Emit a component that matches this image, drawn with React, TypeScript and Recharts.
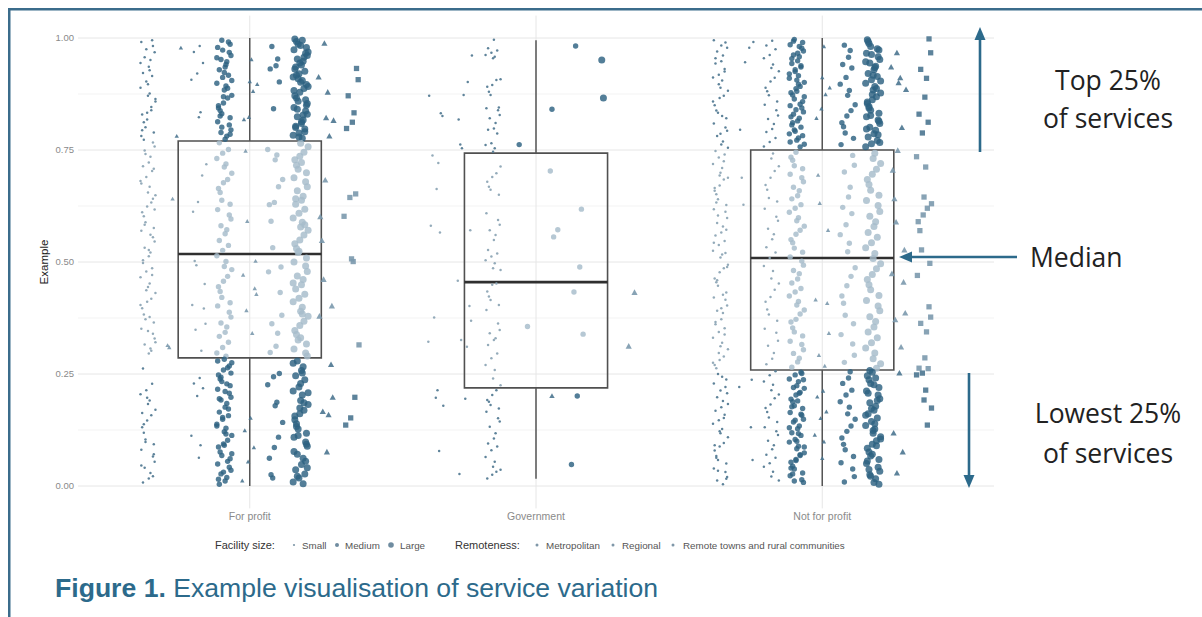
import React from 'react';
import { ScatterChart, Scatter, XAxis, YAxis, CartesianGrid, ReferenceArea, ReferenceLine } from 'recharts';

// ---------- categories & box statistics ----------
const categories = ['For profit', 'Government', 'Not for profit'];
const lowerQuartile = [0.286, 0.219, 0.259];
const medianValue = [0.518, 0.455, 0.509];
const upperQuartile = [0.77, 0.743, 0.75];
const whiskerMin = [0.0, 0.016, 0.0];
const whiskerMax = [1.0, 0.995, 1.0];

const yTicks = [0, 0.25, 0.5, 0.75, 1];
const yMinorTicks = [0.125, 0.375, 0.625, 0.875];
const xTicks = [1, 2, 3];

// ---------- For profit ----------
const fpSmallMetro = [0.991, 0.982, 0.968, 0.957, 0.951, 0.936, 0.922, 0.915, 0.903, 0.889, 0.876, 0.871, 0.858, 0.846, 0.833, 0.829, 0.812, 0.801, 0.789, 0.781, 0.767, 0.758, 0.749, 0.735, 0.722, 0.714, 0.703, 0.69, 0.681, 0.668, 0.655, 0.649, 0.633, 0.624, 0.611, 0.602, 0.589, 0.576, 0.57, 0.555, 0.546, 0.532, 0.521, 0.513, 0.498, 0.486, 0.479, 0.466, 0.452, 0.444, 0.431, 0.418, 0.411, 0.397, 0.383, 0.372, 0.365, 0.351, 0.34, 0.329, 0.316, 0.307, 0.296, 0.262, 0.228, 0.214, 0.205, 0.191, 0.183, 0.17, 0.158, 0.146, 0.131, 0.119, 0.104, 0.093, 0.081, 0.066, 0.054, 0.041, 0.029, 0.017, 0.008, 0.995, 0.975, 0.944, 0.928, 0.897, 0.864, 0.839, 0.818, 0.794, 0.773, 0.741, 0.708, 0.675, 0.641, 0.617, 0.583, 0.561, 0.527, 0.504, 0.471, 0.437, 0.404, 0.377, 0.346, 0.321, 0.302, 0.197, 0.163, 0.138, 0.098, 0.071, 0.046, 0.022];
const fpSmallRegional = [0.978, 0.781, 0.641, 0.314, 0.309];
const fpSmallRemote = [0.982, 0.969, 0.944, 0.921, 0.907, 0.834, 0.823, 0.718, 0.693, 0.634, 0.612, 0.502, 0.493, 0.451, 0.404, 0.396, 0.362, 0.349, 0.302, 0.241, 0.229, 0.218, 0.201, 0.112, 0.091, 0.063];
const fpMediumMetro = [0.995, 0.986, 0.979, 0.968, 0.961, 0.952, 0.947, 0.935, 0.929, 0.917, 0.912, 0.899, 0.893, 0.884, 0.872, 0.866, 0.855, 0.849, 0.838, 0.831, 0.822, 0.813, 0.806, 0.795, 0.789, 0.781, 0.774, 0.766, 0.751, 0.743, 0.731, 0.719, 0.712, 0.698, 0.684, 0.677, 0.664, 0.655, 0.638, 0.629, 0.617, 0.605, 0.596, 0.581, 0.572, 0.563, 0.548, 0.537, 0.526, 0.514, 0.501, 0.49, 0.483, 0.468, 0.457, 0.445, 0.434, 0.421, 0.409, 0.402, 0.388, 0.377, 0.364, 0.355, 0.343, 0.334, 0.321, 0.309, 0.297, 0.29, 0.283, 0.275, 0.264, 0.259, 0.248, 0.239, 0.233, 0.224, 0.216, 0.207, 0.198, 0.192, 0.184, 0.176, 0.165, 0.157, 0.149, 0.138, 0.129, 0.121, 0.113, 0.102, 0.094, 0.087, 0.076, 0.068, 0.061, 0.049, 0.042, 0.035, 0.027, 0.019, 0.011, 0.004, 0.991, 0.973, 0.956, 0.941, 0.923, 0.905, 0.888, 0.869, 0.844, 0.826, 0.801, 0.785, 0.279, 0.268, 0.252, 0.243, 0.228, 0.211, 0.195, 0.172, 0.153, 0.134, 0.116, 0.091, 0.072, 0.055, 0.031, 0.015];
const fpMediumRegional = [0.952, 0.903, 0.897, 0.881, 0.823, 0.818, 0.748, 0.591, 0.502, 0.471, 0.441, 0.428, 0.392, 0.341, 0.152, 0.124, 0.086, 0.054, 0.012];
const fpMediumRemote = [0.981, 0.953, 0.938, 0.931, 0.902, 0.842, 0.751, 0.739, 0.728, 0.684, 0.668, 0.633, 0.628, 0.591, 0.532, 0.489, 0.478, 0.432, 0.381, 0.362, 0.341, 0.312, 0.298, 0.251, 0.244, 0.226, 0.187, 0.179, 0.142, 0.109, 0.086, 0.062, 0.025, 0.018];
const fpLargeMetro = [0.998, 0.992, 0.986, 0.979, 0.974, 0.966, 0.961, 0.953, 0.948, 0.94, 0.935, 0.926, 0.92, 0.913, 0.905, 0.901, 0.892, 0.887, 0.879, 0.871, 0.866, 0.859, 0.85, 0.845, 0.837, 0.83, 0.824, 0.817, 0.809, 0.803, 0.797, 0.788, 0.783, 0.776, 0.765, 0.757, 0.745, 0.736, 0.728, 0.716, 0.707, 0.699, 0.688, 0.679, 0.668, 0.659, 0.647, 0.638, 0.629, 0.618, 0.609, 0.598, 0.589, 0.578, 0.571, 0.56, 0.549, 0.541, 0.53, 0.521, 0.509, 0.5, 0.491, 0.479, 0.469, 0.461, 0.449, 0.44, 0.428, 0.419, 0.411, 0.399, 0.39, 0.379, 0.368, 0.358, 0.347, 0.338, 0.326, 0.317, 0.306, 0.297, 0.29, 0.279, 0.266, 0.258, 0.246, 0.237, 0.221, 0.212, 0.203, 0.191, 0.182, 0.169, 0.161, 0.148, 0.139, 0.127, 0.118, 0.109, 0.098, 0.089, 0.071, 0.062, 0.048, 0.036, 0.027, 0.018, 0.009, 0.995, 0.983, 0.969, 0.957, 0.944, 0.931, 0.917, 0.909, 0.896, 0.883, 0.862, 0.854, 0.841, 0.828, 0.813, 0.8, 0.791, 0.779, 0.274, 0.252, 0.229, 0.208, 0.186, 0.174, 0.156, 0.133, 0.113, 0.093, 0.077, 0.055, 0.041, 0.022, 0.005, 0.722, 0.641, 0.583, 0.524, 0.453, 0.384, 0.331];
const fpLargeRegional = [0.988, 0.913, 0.879, 0.822, 0.816, 0.781, 0.683, 0.601, 0.548, 0.461, 0.402, 0.379, 0.271, 0.198, 0.166, 0.159, 0.076];
const fpLargeRemote = [0.932, 0.907, 0.871, 0.833, 0.812, 0.798, 0.652, 0.644, 0.602, 0.501, 0.507, 0.315, 0.198, 0.152, 0.136];

// ---------- Government ----------
const govSmallA = [0.871, 0.832, 0.826, 0.738, 0.721, 0.663, 0.581, 0.566, 0.376, 0.322, 0.214, 0.197, 0.179, 0.078];
const govSmallB = [0.961, 0.902, 0.873, 0.818, 0.762, 0.754, 0.571, 0.458, 0.402, 0.369, 0.326, 0.311, 0.195, 0.027];
const govSmallC = [0.996, 0.977, 0.972, 0.967, 0.962, 0.958, 0.955, 0.908, 0.906, 0.895, 0.891, 0.88, 0.873, 0.845, 0.843, 0.839, 0.828, 0.821, 0.81, 0.798, 0.795, 0.787, 0.765, 0.761, 0.754, 0.746, 0.713, 0.698, 0.69, 0.679, 0.668, 0.661, 0.65, 0.609, 0.594, 0.583, 0.571, 0.56, 0.549, 0.527, 0.519, 0.512, 0.504, 0.497, 0.486, 0.482, 0.452, 0.449, 0.434, 0.423, 0.415, 0.404, 0.393, 0.363, 0.348, 0.341, 0.33, 0.326, 0.315, 0.296, 0.285, 0.27, 0.259, 0.24, 0.225, 0.214, 0.203, 0.192, 0.188, 0.181, 0.173, 0.166, 0.151, 0.144, 0.132, 0.118, 0.106, 0.095, 0.088, 0.08, 0.065, 0.054, 0.043, 0.036, 0.032, 0.025, 0.017];
const govMediumA = [0.762, 0.356];
const govMediumB = [0.841, 0.703, 0.572, 0.556];
const govMediumBTri = [0.201];
const govMediumC = [0.982, 0.618, 0.489, 0.433, 0.339, 0.201, 0.048];
const govLarge = [0.951, 0.866];
const govLargeTri = [0.432, 0.312];

// ---------- Not for profit ----------
const nfpSmallMetro = [0.995, 0.99, 0.978, 0.97, 0.961, 0.948, 0.943, 0.931, 0.918, 0.912, 0.905, 0.889, 0.882, 0.871, 0.866, 0.85, 0.838, 0.833, 0.821, 0.809, 0.8, 0.793, 0.781, 0.769, 0.762, 0.748, 0.74, 0.733, 0.719, 0.71, 0.699, 0.688, 0.684, 0.671, 0.659, 0.651, 0.64, 0.627, 0.618, 0.612, 0.598, 0.587, 0.579, 0.566, 0.559, 0.547, 0.538, 0.525, 0.517, 0.51, 0.494, 0.486, 0.477, 0.463, 0.455, 0.447, 0.432, 0.421, 0.416, 0.403, 0.391, 0.386, 0.372, 0.361, 0.352, 0.344, 0.331, 0.32, 0.312, 0.305, 0.289, 0.281, 0.27, 0.263, 0.25, 0.238, 0.229, 0.221, 0.207, 0.198, 0.19, 0.176, 0.168, 0.159, 0.147, 0.139, 0.127, 0.118, 0.109, 0.096, 0.088, 0.079, 0.067, 0.058, 0.05, 0.039, 0.031, 0.02, 0.012, 0.004, 0.983, 0.955, 0.925, 0.897, 0.858, 0.826, 0.786, 0.755, 0.725, 0.693, 0.665, 0.633, 0.604, 0.572, 0.543, 0.52, 0.489, 0.459, 0.427, 0.397, 0.366, 0.338, 0.297, 0.275, 0.244, 0.213, 0.183, 0.152, 0.122, 0.091, 0.063, 0.034, 0.016];
const nfpSmallSparse = [0.991, 0.978, 0.946, 0.795, 0.688, 0.628, 0.237, 0.221, 0.131, 0.058];
const nfpSmallDense = [0.994, 0.983, 0.975, 0.962, 0.955, 0.941, 0.933, 0.926, 0.911, 0.903, 0.889, 0.881, 0.872, 0.858, 0.851, 0.839, 0.827, 0.819, 0.808, 0.797, 0.79, 0.777, 0.768, 0.758, 0.742, 0.731, 0.714, 0.703, 0.688, 0.672, 0.661, 0.643, 0.635, 0.619, 0.601, 0.592, 0.574, 0.562, 0.551, 0.533, 0.521, 0.509, 0.491, 0.48, 0.463, 0.452, 0.438, 0.422, 0.411, 0.394, 0.383, 0.369, 0.351, 0.342, 0.324, 0.313, 0.297, 0.284, 0.272, 0.256, 0.247, 0.233, 0.226, 0.214, 0.204, 0.196, 0.182, 0.174, 0.165, 0.153, 0.143, 0.131, 0.122, 0.114, 0.101, 0.091, 0.082, 0.07, 0.063, 0.051, 0.043, 0.032, 0.021, 0.012];
const nfpMediumMetro = [0.997, 0.99, 0.985, 0.977, 0.971, 0.962, 0.958, 0.949, 0.943, 0.935, 0.929, 0.92, 0.916, 0.906, 0.901, 0.892, 0.887, 0.878, 0.873, 0.864, 0.858, 0.849, 0.844, 0.835, 0.83, 0.821, 0.815, 0.806, 0.801, 0.792, 0.786, 0.777, 0.772, 0.763, 0.757, 0.745, 0.734, 0.727, 0.715, 0.708, 0.696, 0.688, 0.679, 0.667, 0.659, 0.648, 0.641, 0.628, 0.62, 0.611, 0.599, 0.592, 0.58, 0.571, 0.562, 0.55, 0.543, 0.531, 0.522, 0.511, 0.502, 0.493, 0.481, 0.474, 0.462, 0.453, 0.441, 0.433, 0.424, 0.412, 0.404, 0.393, 0.384, 0.372, 0.366, 0.353, 0.344, 0.335, 0.323, 0.316, 0.304, 0.296, 0.285, 0.277, 0.265, 0.254, 0.248, 0.239, 0.233, 0.224, 0.218, 0.209, 0.203, 0.194, 0.188, 0.179, 0.173, 0.164, 0.158, 0.149, 0.143, 0.134, 0.128, 0.119, 0.113, 0.104, 0.098, 0.089, 0.083, 0.074, 0.068, 0.059, 0.053, 0.044, 0.038, 0.029, 0.023, 0.014, 0.008, 0.993, 0.981, 0.966, 0.954, 0.938, 0.925, 0.91, 0.897, 0.881, 0.869, 0.852, 0.84, 0.824, 0.811, 0.795, 0.782, 0.768, 0.251, 0.237, 0.22, 0.207, 0.19, 0.177, 0.16, 0.147, 0.13, 0.117, 0.1, 0.087, 0.07, 0.057, 0.04, 0.027, 0.011];
const nfpMediumRegional = [0.981, 0.912, 0.889, 0.874, 0.842, 0.821, 0.694, 0.631, 0.571, 0.416, 0.408, 0.341, 0.292, 0.268, 0.212, 0.199, 0.166, 0.151, 0.114, 0.099, 0.062];
const nfpMediumRemote = [0.984, 0.972, 0.957, 0.941, 0.933, 0.912, 0.897, 0.883, 0.872, 0.851, 0.838, 0.826, 0.811, 0.802, 0.788, 0.776, 0.762, 0.738, 0.716, 0.701, 0.667, 0.645, 0.622, 0.608, 0.583, 0.561, 0.542, 0.523, 0.487, 0.468, 0.447, 0.424, 0.408, 0.381, 0.362, 0.338, 0.317, 0.292, 0.276, 0.255, 0.241, 0.229, 0.214, 0.203, 0.188, 0.176, 0.161, 0.149, 0.134, 0.122, 0.107, 0.093, 0.081, 0.066, 0.052, 0.038, 0.021, 0.009];
const nfpLargeMetro = [0.996, 0.988, 0.981, 0.973, 0.966, 0.958, 0.952, 0.944, 0.937, 0.929, 0.921, 0.914, 0.907, 0.899, 0.892, 0.884, 0.877, 0.869, 0.862, 0.854, 0.847, 0.839, 0.832, 0.824, 0.817, 0.809, 0.801, 0.794, 0.786, 0.779, 0.771, 0.764, 0.757, 0.743, 0.731, 0.72, 0.707, 0.696, 0.684, 0.673, 0.66, 0.649, 0.637, 0.626, 0.613, 0.602, 0.59, 0.579, 0.566, 0.555, 0.543, 0.532, 0.519, 0.508, 0.496, 0.485, 0.472, 0.461, 0.449, 0.438, 0.425, 0.414, 0.402, 0.391, 0.378, 0.367, 0.355, 0.344, 0.331, 0.32, 0.308, 0.297, 0.284, 0.273, 0.263, 0.254, 0.246, 0.237, 0.229, 0.22, 0.212, 0.203, 0.195, 0.186, 0.178, 0.169, 0.161, 0.152, 0.144, 0.135, 0.127, 0.118, 0.11, 0.101, 0.093, 0.084, 0.076, 0.067, 0.059, 0.05, 0.042, 0.033, 0.025, 0.016, 0.008, 0.992, 0.976, 0.963, 0.947, 0.934, 0.917, 0.904, 0.887, 0.874, 0.857, 0.844, 0.827, 0.814, 0.797, 0.784, 0.767, 0.258, 0.241, 0.226, 0.207, 0.191, 0.173, 0.158, 0.139, 0.124, 0.105, 0.09, 0.071, 0.056, 0.037, 0.022, 0.004];
const nfpLargeRegional = [0.967, 0.935, 0.911, 0.9, 0.885, 0.8, 0.749, 0.705, 0.641, 0.589, 0.527, 0.474, 0.455, 0.386, 0.371, 0.31, 0.252, 0.118, 0.076, 0.029];
const nfpLargeRemote = [0.998, 0.967, 0.93, 0.91, 0.868, 0.83, 0.812, 0.788, 0.735, 0.712, 0.645, 0.63, 0.62, 0.605, 0.59, 0.57, 0.527, 0.497, 0.47, 0.4, 0.377, 0.363, 0.344, 0.286, 0.263, 0.262, 0.252, 0.248, 0.214, 0.192, 0.174, 0.136];

// ---------- strip layout (dodge slot, mark size & shape) ----------
type Size = 'small' | 'medium' | 'large';
type Shape = 'circle' | 'triangle' | 'square';
type Strip = { cat: number; slot: number; slots: number; size: Size; shape: Shape; values: number[] };

const strips: Strip[] = [
  { cat: 0, slot: 0, slots: 9, size: 'small', shape: 'circle', values: fpSmallMetro },
  { cat: 0, slot: 1, slots: 9, size: 'small', shape: 'triangle', values: fpSmallRegional },
  { cat: 0, slot: 2, slots: 9, size: 'small', shape: 'circle', values: fpSmallRemote },
  { cat: 0, slot: 3, slots: 9, size: 'medium', shape: 'circle', values: fpMediumMetro },
  { cat: 0, slot: 4, slots: 9, size: 'small', shape: 'triangle', values: fpMediumRegional },
  { cat: 0, slot: 5, slots: 9, size: 'medium', shape: 'circle', values: fpMediumRemote },
  { cat: 0, slot: 6, slots: 9, size: 'large', shape: 'circle', values: fpLargeMetro },
  { cat: 0, slot: 7, slots: 9, size: 'large', shape: 'triangle', values: fpLargeRegional },
  { cat: 0, slot: 8, slots: 9, size: 'large', shape: 'square', values: fpLargeRemote },

  { cat: 1, slot: 0, slots: 8, size: 'small', shape: 'circle', values: govSmallA },
  { cat: 1, slot: 1, slots: 8, size: 'small', shape: 'circle', values: govSmallB },
  { cat: 1, slot: 2, slots: 8, size: 'small', shape: 'circle', values: govSmallC },
  { cat: 1, slot: 3, slots: 8, size: 'medium', shape: 'circle', values: govMediumA },
  { cat: 1, slot: 4, slots: 8, size: 'medium', shape: 'circle', values: govMediumB },
  { cat: 1, slot: 4, slots: 8, size: 'medium', shape: 'triangle', values: govMediumBTri },
  { cat: 1, slot: 5, slots: 8, size: 'medium', shape: 'circle', values: govMediumC },
  { cat: 1, slot: 6, slots: 8, size: 'large', shape: 'circle', values: govLarge },
  { cat: 1, slot: 7, slots: 8, size: 'large', shape: 'triangle', values: govLargeTri },

  { cat: 2, slot: 0, slots: 9, size: 'small', shape: 'circle', values: nfpSmallMetro },
  { cat: 2, slot: 1, slots: 9, size: 'small', shape: 'circle', values: nfpSmallSparse },
  { cat: 2, slot: 2, slots: 9, size: 'small', shape: 'circle', values: nfpSmallDense },
  { cat: 2, slot: 3, slots: 9, size: 'medium', shape: 'circle', values: nfpMediumMetro },
  { cat: 2, slot: 4, slots: 9, size: 'small', shape: 'triangle', values: nfpMediumRegional },
  { cat: 2, slot: 5, slots: 9, size: 'medium', shape: 'circle', values: nfpMediumRemote },
  { cat: 2, slot: 6, slots: 9, size: 'large', shape: 'circle', values: nfpLargeMetro },
  { cat: 2, slot: 7, slots: 9, size: 'large', shape: 'triangle', values: nfpLargeRegional },
  { cat: 2, slot: 8, slots: 9, size: 'large', shape: 'square', values: nfpLargeRemote },
];

// fixed jitter pattern (horizontal spread inside each strip)
const jitterPattern = [-0.8, 0.3, -0.2, 0.9, -0.5, 0.6, 0.1, -0.9, 0.4, -0.3, 0.8, -0.6, 0.2, -0.1, 0.7, -0.4, 0.5, 0.0, -0.7];
const JITTER = 0.029;
const DODGE = 0.8;

const stripData = (s: Strip) => {
  const offset = (s.slot - (s.slots - 1) / 2) * (DODGE / s.slots);
  return s.values.map((y, i) => ({
    x: s.cat + 1 + offset + jitterPattern[(i * 5 + s.slot * 3) % jitterPattern.length] * JITTER,
    y,
    inside: y >= lowerQuartile[s.cat] && y <= upperQuartile[s.cat],
  }));
};

const radius: Record<Size, number> = { small: 1.25, medium: 2.7, large: 3.5 };
const markSize: Record<Size, number> = { small: 2.2, medium: 2.7, large: 3.1 };

const colourFor = (s: Strip, inside: boolean) => {
  if (s.shape !== 'circle') return inside ? '#7b99ad' : '#4b7590';
  if (s.size === 'small') return inside ? '#8ea6b6' : '#557c95';
  return inside ? '#a6bccb' : '#2d6281';
};

const renderMark = (s: Strip) => (props: any) => {
  const { cx, cy, payload } = props;
  if (typeof cx !== 'number' || typeof cy !== 'number') return <g />;
  const fill = colourFor(s, !!(payload && payload.inside));
  if (s.shape === 'circle') {
    return <circle cx={cx} cy={cy} r={radius[s.size]} fill={fill} fillOpacity={s.size === 'small' ? 0.95 : 0.82} />;
  }
  const h = markSize[s.size];
  if (s.shape === 'square') {
    return <rect x={cx - h * 0.85} y={cy - h * 0.85} width={h * 1.7} height={h * 1.7} fill={fill} fillOpacity={0.9} />;
  }
  return (
    <polygon
      points={`${cx},${cy - h} ${cx - h},${cy + h * 0.8} ${cx + h},${cy + h * 0.8}`}
      fill={fill}
      fillOpacity={0.9}
    />
  );
};

const FONT = 'Liberation Sans, Arial, Helvetica, sans-serif';
const TEAL = '#2c6a8b';

export default function App() {
  return (
    <div style={{ position: 'absolute', left: 0, top: 0, width: 1202, height: 617, background: '#ffffff', overflow: 'hidden' }}>
      <ScatterChart
        width={1202}
        height={617}
        margin={{ top: 15.6, right: 208, bottom: 78.6, left: 18 }}
        style={{ position: 'absolute', left: 0, top: 0 }}
      >
        <CartesianGrid horizontalValues={yMinorTicks} vertical={false} stroke="#f3f3f3" strokeWidth={1} />
        <CartesianGrid horizontalValues={yTicks} verticalValues={xTicks} stroke="#e6e6e6" strokeWidth={1} />
        <XAxis
          type="number"
          dataKey="x"
          domain={[0.4, 3.6]}
          ticks={xTicks}
          tickFormatter={(v: number) => categories[Math.round(v) - 1] ?? ''}
          axisLine={false}
          tickLine={false}
          tickSize={0}
          tickMargin={4}
          height={30}
          allowDataOverflow
          tick={{ fontSize: 10.5, fill: '#8a8a8a', fontFamily: FONT }}
        />
        <YAxis
          type="number"
          dataKey="y"
          domain={[-0.05, 1.05]}
          ticks={yTicks}
          tickFormatter={(v: number) => v.toFixed(2)}
          axisLine={false}
          tickLine={false}
          tickSize={0}
          tickMargin={4}
          width={60}
          allowDataOverflow
          tick={{ fontSize: 9.5, fill: '#8a8a8a', fontFamily: FONT }}
        />
        {strips.map((s, k) => (
          <Scatter key={k} data={stripData(s)} shape={renderMark(s)} isAnimationActive={false} />
        ))}
        {categories.map((c, i) => (
          <ReferenceArea
            key={'box' + c}
            x1={i + 1 - 0.25}
            x2={i + 1 + 0.25}
            y1={lowerQuartile[i]}
            y2={upperQuartile[i]}
            fill="none"
            fillOpacity={0}
            stroke="#505050"
            strokeWidth={1.6}
            ifOverflow="visible"
          />
        ))}
        {categories.map((c, i) => (
          <ReferenceLine
            key={'med' + c}
            segment={[{ x: i + 1 - 0.25, y: medianValue[i] }, { x: i + 1 + 0.25, y: medianValue[i] }]}
            stroke="#2f2f2f"
            strokeWidth={2.6}
          />
        ))}
        {categories.map((c, i) => (
          <ReferenceLine
            key={'wu' + c}
            segment={[{ x: i + 1, y: upperQuartile[i] }, { x: i + 1, y: whiskerMax[i] }]}
            stroke="#555555"
            strokeWidth={1.5}
          />
        ))}
        {categories.map((c, i) => (
          <ReferenceLine
            key={'wl' + c}
            segment={[{ x: i + 1, y: whiskerMin[i] }, { x: i + 1, y: lowerQuartile[i] }]}
            stroke="#555555"
            strokeWidth={1.5}
          />
        ))}
      </ScatterChart>

      <svg width={1202} height={617} style={{ position: 'absolute', left: 0, top: 0, pointerEvents: 'none' }}>
        {/* frame */}
        <rect x={8} y={8} width={1200} height={2.5} fill="#3b6c8b" />
        <rect x={8} y={8} width={2.5} height={620} fill="#3b6c8b" />

        {/* y axis title */}
        <text x={48} y={262} transform="rotate(-90 48 262)" textAnchor="middle" fontFamily={FONT} fontSize={11.5} fill="#222">
          Example
        </text>

        {/* legend */}
        <g fontFamily={FONT}>
          <text x={215} y={549} fontSize={11} fill="#333">Facility size:</text>
          <circle cx={294} cy={545} r={1.1} fill="#7f97a8" />
          <text x={302} y={548.5} fontSize={9.8} fill="#555">Small</text>
          <circle cx={337} cy={545} r={2} fill="#6f8ca0" />
          <text x={345} y={548.5} fontSize={9.8} fill="#555">Medium</text>
          <circle cx={391} cy={545} r={2.8} fill="#6f8ca0" />
          <text x={400} y={548.5} fontSize={9.8} fill="#555">Large</text>
          <text x={455} y={549} fontSize={11} fill="#333">Remoteness:</text>
          <circle cx={537} cy={545} r={1.5} fill="#7f97a8" />
          <text x={546} y={548.5} fontSize={9.8} fill="#555">Metropolitan</text>
          <circle cx={613} cy={545} r={1.5} fill="#7f97a8" />
          <text x={622} y={548.5} fontSize={9.8} fill="#555">Regional</text>
          <circle cx={673} cy={545} r={1.5} fill="#7f97a8" />
          <text x={683} y={548.5} fontSize={9.8} fill="#555">Remote towns and rural communities</text>
        </g>

        {/* caption */}
        <text x={55} y={597} fontFamily={FONT} fontSize={26.6} fill={TEAL}>
          <tspan fontWeight="bold">Figure 1.</tspan>
          <tspan> Example visualisation of service variation</tspan>
        </text>

        {/* annotations */}
        <g stroke={TEAL} strokeWidth={2.6} fill="none">
          <line x1={980} y1={152} x2={980} y2={38} />
          <line x1={969} y1={373} x2={969} y2={477} />
          <line x1={1017} y1={257} x2={910} y2={257} />
        </g>
        <g fill={TEAL}>
          <polygon points="980,27 974.5,40 985.5,40" />
          <polygon points="969,488 963.5,475 974.5,475" />
          <polygon points="899,257 912,251.5 912,262.5" />
        </g>
        <g fontFamily="Open Sans, Noto Sans, sans-serif" fontSize={26.5} fill="#222">
          <text x={1108} y={90} textAnchor="middle">Top 25%</text>
          <text x={1108} y={128} textAnchor="middle">of services</text>
          <text x={1030} y={267}>Median</text>
          <text x={1108} y={423} textAnchor="middle">Lowest 25%</text>
          <text x={1108} y={463} textAnchor="middle">of services</text>
        </g>
      </svg>
    </div>
  );
}
